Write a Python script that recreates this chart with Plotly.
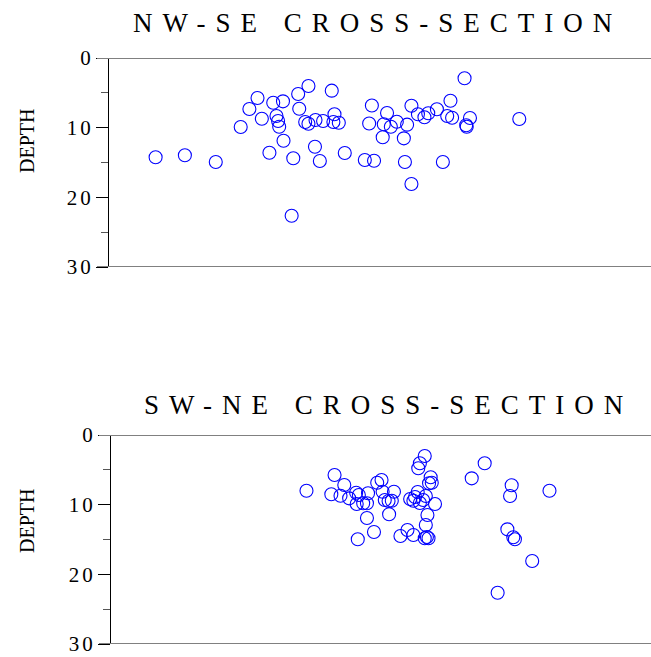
import plotly.graph_objects as go

# ---- data (x: distance along section in arbitrary units 0-100, depth in km) ----
nwse_x = [8.6, 14.0, 19.7, 24.3, 25.9, 27.4, 28.2, 30.3, 30.9, 31.2, 31.4, 32.1, 32.2, 29.6,
          33.7, 34.0, 34.9, 36.8, 35.1, 36.2, 36.8, 38.1, 38.0, 38.9, 39.5, 41.1, 41.6, 41.4,
          42.4, 43.5, 48.0, 48.5, 47.2, 48.9, 50.5, 51.3, 50.7, 52.0, 53.1, 55.0, 54.4, 55.8,
          57.0, 58.2, 58.9, 60.5, 63.0, 62.4, 63.3, 65.6, 66.6, 65.9, 66.0, 75.7, 54.6, 61.6, 55.8]
nwse_depth = [14.25, 13.97, 14.93, 9.90, 7.32, 5.74, 8.71, 6.42, 8.33, 9.04, 9.86, 6.22, 11.87, 13.59,
              22.64, 14.40, 5.17, 4.02, 7.28, 9.19, 9.43, 8.90, 12.73, 14.78, 9.04, 4.69, 8.08, 9.19,
              9.29, 13.64, 9.40, 6.82, 14.64, 14.74, 11.38, 7.89, 9.52, 9.86, 9.14, 9.57, 11.53, 6.85,
              8.08, 8.51, 7.94, 7.36, 6.13, 8.33, 8.57, 2.91, 8.61, 9.66, 9.86, 8.76, 14.93, 14.93, 18.09]

swne_x = [36.2, 41.4, 40.8, 43.2, 42.5, 44.1, 45.4, 45.9, 45.5, 46.7, 47.6, 47.4, 47.4, 48.7,
          45.7, 49.3, 50.1, 50.3, 50.7, 51.4, 52.0, 52.4, 51.5, 53.6, 54.9, 56.0, 55.4, 56.0,
          56.8, 56.9, 57.2, 58.1, 59.2, 59.4, 57.8, 60.0, 58.6, 58.3, 58.1, 58.8, 58.9, 58.5,
          69.2, 66.8, 74.2, 73.9, 81.2, 73.4, 74.5, 74.8, 78.0, 71.6, 56.3, 57.2, 58.3]
swne_depth = [8.00, 5.74, 8.51, 7.18, 8.71, 9.09, 8.28, 8.61, 9.90, 9.80, 8.37, 9.80, 11.91, 13.92,
              14.97, 6.85, 6.46, 8.14, 9.33, 9.47, 9.43, 8.14, 11.38, 14.50, 13.64, 14.35, 9.19, 9.43,
              8.18, 4.78, 4.06, 3.01, 6.07, 6.85, 9.33, 9.90, 11.48, 12.92, 14.83, 14.83, 6.93, 14.64,
              4.06, 6.22, 7.22, 8.76, 8.00, 13.54, 14.68, 14.97, 18.09, 22.64, 8.90, 9.76, 8.76]

depth_ticks = [0, 10, 20, 30]
titles = ["NW-SE CROSS-SECTION", "SW-NE CROSS-SECTION"]
ylabel = "DEPTH"

W, H = 651, 657
SERIF = "Liberation Serif, Times New Roman, serif"

def spaced(s, px):
    return '<span style="letter-spacing:%dpx">%s</span>' % (px, s)

fig = go.Figure()
marker = dict(symbol="circle-open", size=13, color="#0000ff", line=dict(width=1.1, color="#0000ff"))
fig.add_trace(go.Scatter(x=nwse_x, y=nwse_depth, mode="markers", marker=marker,
                         xaxis="x", yaxis="y", showlegend=False, hoverinfo="skip"))
fig.add_trace(go.Scatter(x=swne_x, y=swne_depth, mode="markers", marker=marker,
                         xaxis="x2", yaxis="y2", showlegend=False, hoverinfo="skip"))

def ydom(top_px, bot_px):
    return [1 - bot_px / H, 1 - top_px / H]

yax = dict(range=[30, 0], tickvals=depth_ticks, ticktext=[spaced(str(t), 3) for t in depth_ticks],
           ticks="outside", ticklen=12, tickwidth=1, tickcolor="#000000",
           showline=True, linecolor="#000000", linewidth=1,
           showgrid=False, zeroline=False, automargin=False,
           minor=dict(tickvals=[5, 15, 25], ticks="outside", ticklen=7, tickcolor="#555555", tickwidth=1),
           tickfont=dict(family=SERIF, size=21, color="#000000"), ticklabelstandoff=-2)
xax = dict(range=[0, 100], visible=False, showgrid=False, zeroline=False, automargin=False)

fig.update_layout(
    width=W, height=H, margin=dict(l=0, r=0, t=0, b=0, autoexpand=False),
    paper_bgcolor="white", plot_bgcolor="white",
    xaxis=dict(xax, domain=[109 / W, 1.0], anchor="y"),
    yaxis=dict(yax, domain=ydom(58, 267), anchor="x"),
    xaxis2=dict(xax, domain=[111 / W, 1.0], anchor="y2"),
    yaxis2=dict(yax, domain=ydom(435, 644), anchor="x2"),
)

# grey horizontal frame lines at depth 0 and 30
for yref, x0 in (("y", 97 / W), ("y2", 99 / W)):
    for yv in (0, 30):
        fig.add_shape(type="line", xref="paper", yref=yref, x0=x0, x1=1.0, y0=yv, y1=yv,
                      line=dict(color="#808080", width=2))

# titles and axis labels
for title, cx, cy in ((titles[0], 377, 23), (titles[1], 388, 405)):
    fig.add_annotation(text=spaced(title, 10), x=cx / W, y=1 - cy / H, xref="paper", yref="paper",
                       xanchor="center", yanchor="middle", showarrow=False,
                       font=dict(family=SERIF, size=27, color="#000000"))
for cy in (141, 521):
    fig.add_annotation(text=ylabel, x=27 / W, y=1 - cy / H, xref="paper", yref="paper",
                       xanchor="center", yanchor="middle", showarrow=False, textangle=-90,
                       font=dict(family=SERIF, size=20, color="#000000"))

fig.write_html("out.html", config={"displayModeBar": False, "staticPlot": True},
               post_script="document.body.style.margin='0px';document.body.style.overflow='hidden';")
